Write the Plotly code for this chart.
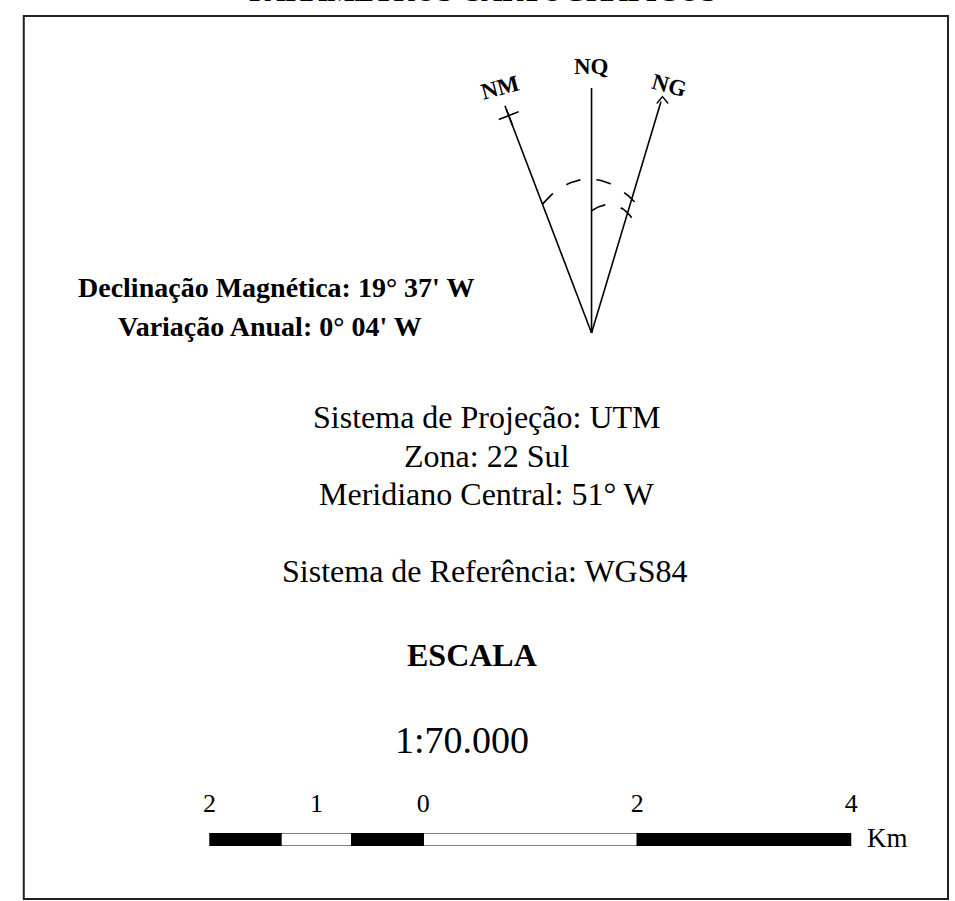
import math
import plotly.graph_objects as go

W, H = 955, 901
SERIF = "Liberation Serif, Times New Roman, serif"

# ---------------- data ----------------
title_text = "PARÂMETROS CARTOGRÁFICOS"
declination_lines = ["Declinação Magnética: 19° 37' W", "Variação Anual: 0° 04' W"]
projection_lines = ["Sistema de Projeção: UTM", "Zona: 22 Sul", "Meridiano Central: 51° W"]
reference_text = "Sistema de Referência: WGS84"
scale_title = "ESCALA"
scale_ratio = "1:70.000"
scale_unit = "Km"

# north arrow (angles in degrees from grid-vertical, clockwise positive)
north_labels = ["NM", "NQ", "NG"]
north_angles = [-21.1, 0.0, 16.9]
north_lengths = [240, 245, 242]

# scale bar (km)
bar_edges = [-2, -1.33, -0.67, 0, 2, 4]
bar_colors = ["black", "white", "black", "white", "black"]
scale_ticks = [-2, -1, 0, 2, 4]
scale_ticktext = ["2", "1", "0", "2", "4"]

# ---------------- layout helpers ----------------
AX, AY = 593, 333  # apex of the north arrow (pixel coords)


def pt(theta, r):
    t = math.radians(theta)
    return AX + r * math.sin(t), AY - r * math.cos(t)


def ellipse_arc(t0, t1, a, b, n=80):
    beta = (t0 + t1) / 2
    xs, ys = [], []
    for i in range(n + 1):
        th = t0 + (t1 - t0) * i / n
        psi = math.radians(th - beta)
        r = 1.0 / math.sqrt((math.sin(psi) / a) ** 2 + (math.cos(psi) / b) ** 2)
        x, y = pt(th, r)
        xs.append(x)
        ys.append(y)
    return xs, ys


fig = go.Figure()

# north arrow lines
for ang, ln in zip(north_angles, north_lengths):
    x1, y1 = pt(ang, ln)
    fig.add_trace(go.Scatter(x=[AX, x1], y=[AY, y1], mode="lines",
                             line=dict(color="black", width=1.6),
                             hoverinfo="skip", showlegend=False))

# NM cross marker
xm, ym = pt(north_angles[0], north_lengths[0] - 7)
fig.add_trace(go.Scatter(x=[xm], y=[ym], mode="markers",
                         marker=dict(symbol="x-thin", size=15, angle=north_angles[0] + 45,
                                     line=dict(color="black", width=1.6)),
                         hoverinfo="skip", showlegend=False))

# NG caret
xg, yg = pt(north_angles[2], north_lengths[2] + 5)
cx, cy = [], []
for side in (-1, 1):
    t = math.radians(180 + side * 40)
    cx.append(xg + 9 * math.sin(t))
    cy.append(yg - 9 * math.cos(t))
fig.add_trace(go.Scatter(x=[cx[0], xg, cx[1]], y=[cy[0], yg, cy[1]], mode="lines",
                         line=dict(color="black", width=1.4),
                         hoverinfo="skip", showlegend=False))

# dashed arcs
ox, oy = ellipse_arc(north_angles[0], north_angles[2] + 1.5, 87, 154)
fig.add_trace(go.Scatter(x=ox, y=oy, mode="lines",
                         line=dict(color="black", width=1.6, dash="15px,16px"),
                         hoverinfo="skip", showlegend=False))
ix, iy = ellipse_arc(north_angles[1], north_angles[2] + 2.5, 55, 130)
fig.add_trace(go.Scatter(x=ix, y=iy, mode="lines",
                         line=dict(color="black", width=1.6, dash="15px,16px"),
                         hoverinfo="skip", showlegend=False))

# north labels
lab_pos = [(north_angles[0] + 0.5, north_lengths[0] + 22, -15),
           (north_angles[1], north_lengths[1] + 22, 0),
           (north_angles[2] + 0.8, north_lengths[2] + 18, 15)]
for lab, (a, r, rot) in zip(north_labels, lab_pos):
    x, y = pt(a, r)
    fig.add_annotation(x=x, y=y, xref="x", yref="y", text=f"<b>{lab}</b>", showarrow=False,
                       textangle=rot, font=dict(family=SERIF, size=23, color="black"))

# scale bar
fig.add_trace(go.Bar(
    x=[bar_edges[i + 1] - bar_edges[i] for i in range(len(bar_colors))],
    base=bar_edges[:-1], y=[0] * len(bar_colors), orientation="h", width=1,
    marker=dict(color=bar_colors, line=dict(color="black", width=1.2)),
    xaxis="x2", yaxis="y2", hoverinfo="skip", showlegend=False))

# frame
fig.add_shape(type="rect", x0=18, y0=16, x1=954, y1=899, xref="x", yref="y",
              line=dict(color="#222", width=2))

# texts
fig.add_annotation(x=483, y=9, xref="x", yref="y", yanchor="bottom",
                   text=f"<b>{title_text}</b>", showarrow=False,
                   font=dict(family=SERIF, size=29, color="black"))
for txt, (x, y) in zip(declination_lines, [(273, 287), (267, 326)]):
    fig.add_annotation(x=x, y=y, xref="x", yref="y", text=f"<b>{txt}</b>", showarrow=False,
                       font=dict(family=SERIF, size=28, color="black"))
for txt, y in zip(projection_lines, [417, 456, 494]):
    fig.add_annotation(x=487, y=y, xref="x", yref="y", text=txt, showarrow=False,
                       font=dict(family=SERIF, size=32, color="black"))
fig.add_annotation(x=485, y=571, xref="x", yref="y", text=reference_text, showarrow=False,
                   font=dict(family=SERIF, size=32, color="black"))
fig.add_annotation(x=472, y=655, xref="x", yref="y", text=f"<b>{scale_title}</b>", showarrow=False,
                   font=dict(family=SERIF, size=32, color="black"))
fig.add_annotation(x=462, y=740, xref="x", yref="y", text=scale_ratio, showarrow=False,
                   font=dict(family=SERIF, size=38, color="black"))
fig.add_annotation(x=893, y=838, xref="x", yref="y", text=scale_unit, showarrow=False,
                   font=dict(family=SERIF, size=27, color="black"))

bar_top, bar_bot = 833, 846
fig.update_layout(
    width=W, height=H, margin=dict(l=0, r=0, t=0, b=0),
    paper_bgcolor="white", plot_bgcolor="rgba(0,0,0,0)",
    xaxis=dict(range=[0, W], visible=False, domain=[0, 1], fixedrange=True),
    yaxis=dict(range=[H, 0], visible=False, domain=[0, 1], fixedrange=True),
    xaxis2=dict(range=[-2, 4], domain=[206 / W, 856 / W], anchor="y2", side="top",
                tickvals=scale_ticks, ticktext=scale_ticktext, showgrid=False,
                zeroline=False, showline=False, ticks="", ticklabelstandoff=15,
                tickfont=dict(family=SERIF, size=26, color="black")),
    yaxis2=dict(range=[-0.5, 0.5], domain=[(H - bar_bot) / H, (H - bar_top) / H],
                anchor="x2", visible=False, fixedrange=True),
    showlegend=False,
)

fig.write_html("out.html", config={"displayModeBar": False},
               post_script="document.body.style.margin='0';")
